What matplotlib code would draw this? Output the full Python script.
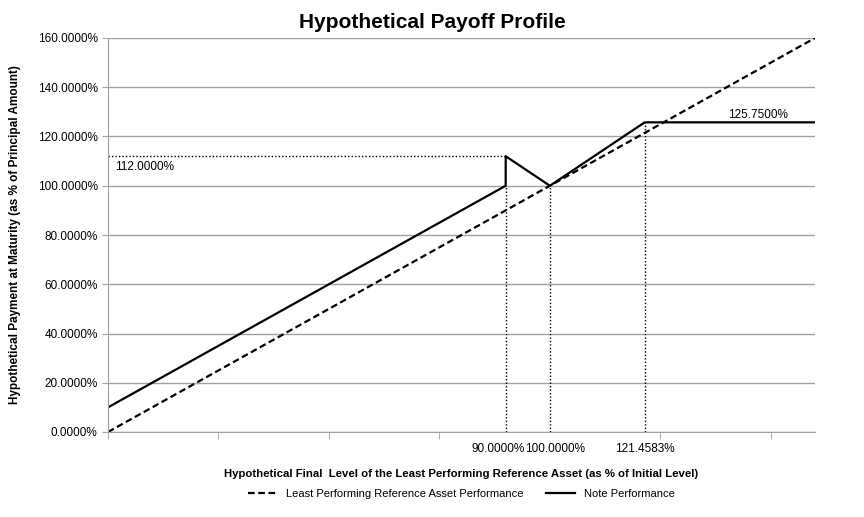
import matplotlib.pyplot as plt
from matplotlib.ticker import FuncFormatter
from matplotlib.transforms import ScaledTranslation

plt.rcParams['font.family'] = ['Liberation Sans', 'DejaVu Sans']

# 데이터
asset_x = [0, 160]
asset_y = [0, 160]

note_x = [0, 90, 90, 100, 121.4583, 160]
note_y = [10, 100, 112, 100, 125.75, 125.75]

label_ticks = [90, 100, 121.4583]
label_texts = ['90.0000%', '100.0000%', '121.4583%']
minor_ticks = [0, 25, 50, 75, 100, 125, 150]
y_ticks = [0, 20, 40, 60, 80, 100, 120, 140, 160]

barrier_y = 112
cap_y = 125.75

fig = plt.figure(figsize=(8.64, 5.17), dpi=100)
ax = fig.add_axes([108 / 864, 1 - 432 / 517, 707 / 864, 394 / 517])

dot = (0, (1, 1.5))
# 기준선 (점선)
ax.plot([0, 90], [barrier_y, barrier_y], color='black', linestyle=dot, linewidth=1)
ax.plot([90, 90], [0, 100], color='black', linestyle=dot, linewidth=1)
ax.plot([100, 100], [0, 100], color='black', linestyle=dot, linewidth=1)
ax.plot([121.4583, 121.4583], [0, cap_y], color='black', linestyle=dot, linewidth=1)

ax.plot(asset_x, asset_y, color='black', linestyle=(0, (3, 1.6)), linewidth=1.6,
        label='Least Performing Reference Asset Performance')
ax.plot(note_x, note_y, color='black', linewidth=1.6, label='Note Performance')

ax.set_xlim(0, 160)
ax.set_ylim(0, 160)
ax.set_yticks(y_ticks)
ax.yaxis.set_major_formatter(FuncFormatter(lambda v, p: f"{v:.4f}%"))
ax.grid(axis='y', color='#a0a0a0', linewidth=1)
ax.set_axisbelow(True)

ax.set_xticks(minor_ticks, minor=True)
ax.set_xticks(label_ticks)
ax.set_xticklabels(label_texts)
ax.tick_params(axis='x', which='major', length=0, labelsize=8.5, pad=8)
ax.tick_params(axis='x', which='minor', length=5, color='#a0a0a0')
ax.tick_params(axis='y', length=4, color='#a0a0a0', labelsize=8.5)

# 90 / 100 라벨 겹침 방지
xl = ax.get_xticklabels()
xl[0].set_ha('right')
xl[0].set_transform(xl[0].get_transform() + ScaledTranslation(19 / 100, 0, fig.dpi_scale_trans))
xl[1].set_ha('left')
xl[1].set_transform(xl[1].get_transform() + ScaledTranslation(-25 / 100, 0, fig.dpi_scale_trans))

for s in ['top', 'right']:
    ax.spines[s].set_visible(False)
for s in ['left', 'bottom']:
    ax.spines[s].set_color('#a0a0a0')

ax.text(1.5, barrier_y - 2, '112.0000%', fontsize=8.5, va='top', ha='left')
ax.text(147, cap_y + 0.6, '125.7500%', fontsize=8.5, va='bottom', ha='center')

fig.text(0.5, 1 - 22 / 517, 'Hypothetical Payoff Profile', fontsize=15, fontweight='bold',
         ha='center', va='center')
ax.set_xlabel('Hypothetical Final  Level of the Least Performing Reference Asset (as % of Initial Level)',
              fontsize=8.2, fontweight='bold', labelpad=10)
ax.set_ylabel('Hypothetical Payment at Maturity (as % of Principal Amount)',
              fontsize=8.5, fontweight='bold', labelpad=12)

ax.legend(loc='center', bbox_to_anchor=(0.5, -0.157), ncol=2, frameon=False,
          fontsize=8, handlelength=2.6, columnspacing=2)

fig.savefig('out.png', dpi=100)
